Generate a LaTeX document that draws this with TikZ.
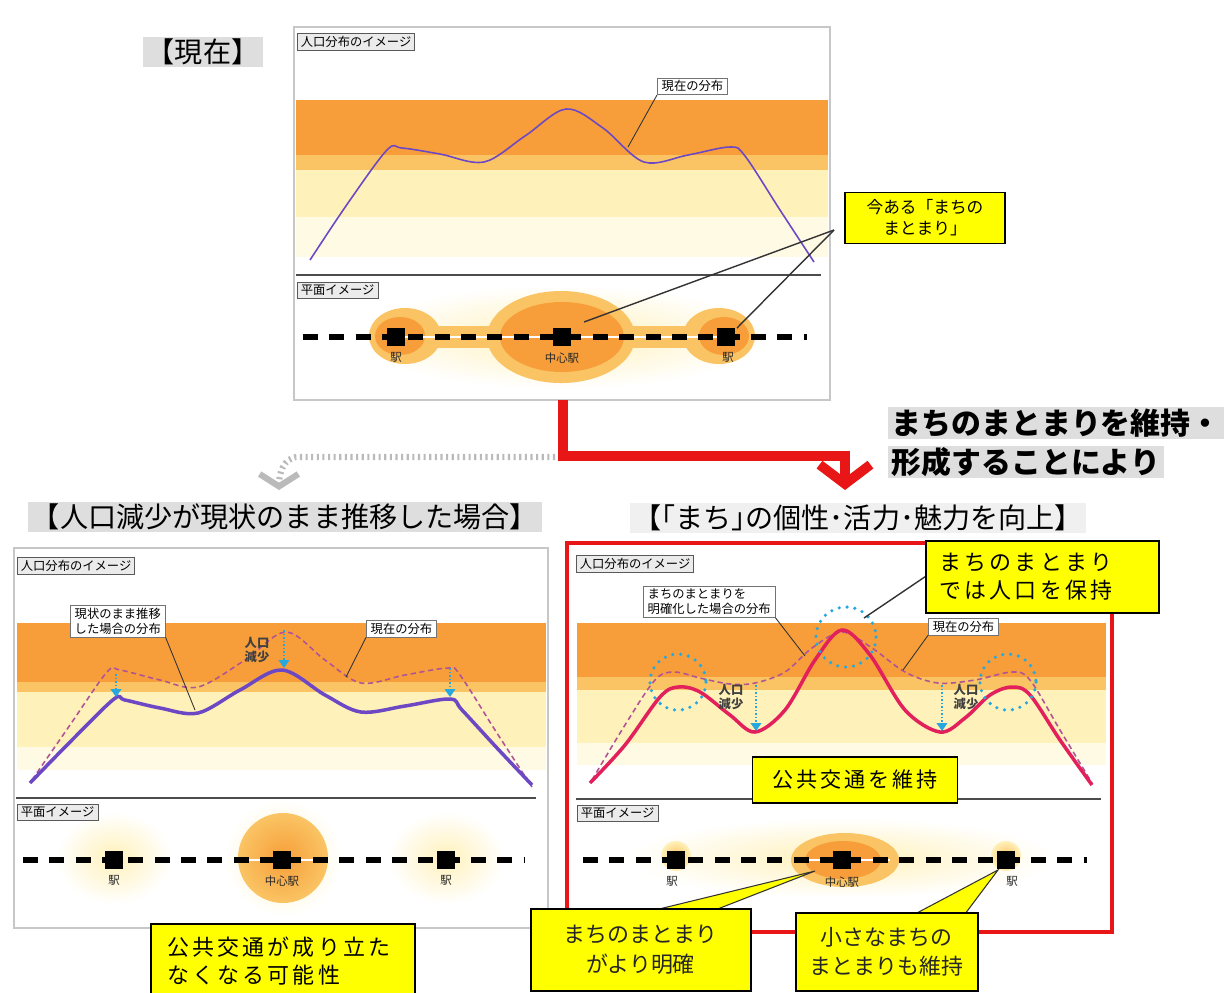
\documentclass[tikz,border=0pt]{standalone}
\usepackage{fontspec}
\usetikzlibrary{arrows.meta}
\setmainfont{Noto Sans CJK JP}
\newfontfamily\widejp[LetterSpace=14]{Noto Sans CJK JP}
\definecolor{bandorange}{RGB}{247,158,58}
\definecolor{bandlight}{RGB}{250,196,100}
\definecolor{bandpale}{RGB}{255,241,186}
\definecolor{bandfaint}{RGB}{255,250,228}
\definecolor{curvepurple}{RGB}{108,72,196}
\definecolor{curvered}{RGB}{226,32,92}
\definecolor{curvedash}{RGB}{176,84,150}
\definecolor{dropblue}{RGB}{38,168,222}
\definecolor{framered}{RGB}{232,22,22}
\definecolor{calloutyellow}{RGB}{255,255,0}
\definecolor{titlegray}{RGB}{222,222,222}
\tikzset{
  panelframe/.style={draw=black!22, line width=0.6pt},
  tag/.style={draw=black!65, fill=black!8, inner xsep=2pt, inner ysep=1.5pt, font=\fontsize{7}{8}\selectfont},
  note/.style={draw=black!55, fill=white, inner xsep=2.5pt, inner ysep=1.5pt, align=left, font=\fontsize{7}{8.5}\selectfont},
  leader/.style={draw=black!80, line width=0.5pt},
  heading/.style={fill=titlegray, inner xsep=2pt, inner ysep=1pt, font=\fontsize{16}{18}\selectfont},
  callout/.style={draw=black, line width=0.9pt, fill=calloutyellow, inner xsep=8pt, inner ysep=4pt},
  divider/.style={draw=black!70, line width=0.6pt},
  railway/.style={line width=3pt, dash pattern=on 8.5pt off 6.5pt},
  station/.style={fill=black, minimum size=10pt, inner sep=0pt},
  stlabel/.style={font=\fontsize{6.5}{7}\selectfont, text=black!85},
  nowcurve/.style={draw=curvepurple, line width=0.9pt},
  oldcurve/.style={draw=curvedash, line width=0.9pt, dash pattern=on 3pt off 2pt},
  drop/.style={draw=dropblue, line width=1pt, densely dotted, -{Triangle[length=4.5pt,width=6pt]}},
  ringdots/.style={draw=dropblue, line width=2pt, dash pattern=on 0pt off 4.5pt, line cap=round},
  declinetext/.style={font=\bfseries\fontsize{7}{8}\selectfont, text=black!75, align=center},
}
\begin{document}
\begin{tikzpicture}[x=0.02cm, y=-0.02cm]
\useasboundingbox (0,0) rectangle (1228,992);
\fill[white] (0,0) rectangle (1228,992);

% top panel
\node[heading] (nowtitle) at (203,52) {【現在】};
\draw[panelframe] (294,27) rectangle (830,400);
\fill[bandfaint] (296,100) rectangle (828,257);
\fill[bandpale] (296,100) rectangle (828,217);
\fill[bandlight] (296,100) rectangle (828,170);
\fill[bandorange] (296,100) rectangle (828,155);
\node[tag, anchor=north west] (topdisttag) at (297,33) {人口分布のイメージ};
\draw[nowcurve] plot[smooth, tension=0.55] coordinates {(310,260) (348,203) (387,150) (402,148) (440,154) (484,162) (525,136) (566,109) (603,128) (644,162) (688,155) (730,147) (745,156) (780,210) (814,262)};
\node[note, anchor=south west] (topnowtag) at (657,95) {現在の分布};
\coordinate (topnowpt) at (628,147);
\draw[leader] (topnowtag.south west) -- (topnowpt);
\shade[inner color=bandpale, outer color=white] (562,337) ellipse [x radius=205, y radius=52];
\draw[divider] (296,275) -- (821,275);
\node[tag, anchor=north west] (topplanetag) at (297,282) {平面イメージ};
\fill[bandlight] (397,326) rectangle (728,348);
\fill[bandlight] (405,336) ellipse [x radius=36, y radius=28];
\fill[bandorange] (400,336) ellipse [x radius=25, y radius=19];
\fill[bandlight] (719,336) ellipse [x radius=36, y radius=28];
\fill[bandorange] (724,336) ellipse [x radius=25, y radius=19];
\fill[bandlight] (561,337) ellipse [x radius=74, y radius=46];
\fill[bandorange] (562,337) ellipse [x radius=62, y radius=35];
\draw[white, line width=1.5pt] (396,337) -- (726,337);
\draw[railway] (303,337) -- (807,337);
\node[station] (topstA) at (396,337) {};
\node[station] (topstB) at (562,337) {};
\node[station] (topstC) at (726,337) {};
\node[stlabel] (topstAname) at (396,357) {駅};
\node[stlabel] (topstBname) at (562,358) {中心駅};
\node[stlabel] (topstCname) at (728,357) {駅};
\node[callout, minimum width=3.2cm, align=center, font=\fontsize{9.5}{12}\selectfont] (nowbox) at (925,218) {今ある「まちの\\まとまり」};
\coordinate (nowhub) at (834,230);
\coordinate (nowcentre) at (584,322);
\coordinate (nowside) at (737,328);
\draw[leader, line width=0.8pt] (nowhub) -- (nowcentre);
\draw[leader, line width=0.8pt] (nowhub) -- (nowside);

% transitions
\coordinate (grayfrom) at (555,457);
\coordinate (graybend) at (298,457);
\coordinate (grayto) at (279,490);
\draw[black!27, line width=3.5pt, dash pattern=on 1.2pt off 2pt, -{Straight Barb[length=7pt,width=22pt]}] (grayfrom) -- (graybend) to[out=180, in=90] (grayto);
\coordinate (redfrom) at (563,400);
\coordinate (redturn) at (845,456);
\coordinate (redto) at (845,490);
\draw[framered, line width=5.5pt, -{Straight Barb[length=11pt,width=29pt]}] (redfrom) |- (redturn) -- (redto);
\node[heading, anchor=west, font=\bfseries\fontsize{17}{19}\selectfont] (keepline) at (888,423) {まちのまとまりを維持・};
\node[heading, anchor=west, font=\bfseries\fontsize{17}{19}\selectfont] (formline) at (888,462) {形成することにより};
\node[heading] (trendtitle) at (285,517) {【人口減少が現状のまま推移した場合】};
\node[heading, fill=black!6] (boosttitle) at (858,518) {【｢まち｣の個性･活力･魅力を向上】};

% bottom left panel
\draw[panelframe] (14,548) rectangle (548,928);
\fill[bandfaint] (17,623) rectangle (546,770);
\fill[bandpale] (17,623) rectangle (546,747);
\fill[bandlight] (17,623) rectangle (546,692);
\fill[bandorange] (17,623) rectangle (546,682);
\node[tag, anchor=north west] (leftdisttag) at (17,557) {人口分布のイメージ};
\draw[oldcurve] plot[smooth, tension=0.55] coordinates {(32,780) (70,725) (107,672) (120,670) (160,680) (198,687) (245,660) (286,632) (325,660) (361,683) (405,675) (448,668) (460,675) (495,730) (532,787)};
\draw[curvepurple, line width=2pt] plot[smooth, tension=0.55] coordinates {(30,783) (72,740) (114,699) (125,700) (160,708) (198,713) (240,690) (282,670) (325,695) (361,712) (405,706) (450,699) (462,710) (497,748) (532,785)};
\coordinate (leftdropAtop) at (116,674);
\coordinate (leftdropAend) at (116,697);
\coordinate (leftdropBtop) at (284,630);
\coordinate (leftdropBend) at (284,668);
\coordinate (leftdropCtop) at (450,668);
\coordinate (leftdropCend) at (450,697);
\draw[drop] (leftdropAtop) -- (leftdropAend);
\draw[drop] (leftdropBtop) -- (leftdropBend);
\draw[drop] (leftdropCtop) -- (leftdropCend);
\node[declinetext] (leftdecline) at (257,650) {人口\\減少};
\node[note, anchor=north west] (lefttrendtag) at (70,605) {現状のまま推移\\した場合の分布};
\coordinate (lefttrendpt) at (195,710);
\draw[leader] (lefttrendtag.south east) -- (lefttrendpt);
\node[note, anchor=north west] (leftnowtag) at (366,620) {現在の分布};
\coordinate (leftnowpt) at (346,677);
\draw[leader] (leftnowtag.south west) -- (leftnowpt);
\shade[inner color=bandpale, outer color=white] (114,858) ellipse [x radius=58, y radius=46];
\shade[inner color=bandpale, outer color=white] (446,858) ellipse [x radius=58, y radius=46];
\shade[inner color=bandpale, outer color=white] (283,858) circle [radius=58];
\shade[inner color=bandorange, outer color=bandlight] (283,858) circle [radius=45];
\draw[divider] (16,798) -- (536,798);
\node[tag, anchor=north west] (leftplanetag) at (17,804) {平面イメージ};
\draw[white, line width=1.5pt] (240,860) -- (326,860);
\draw[railway] (23,860) -- (525,860);
\node[station] (leftstA) at (114,860) {};
\node[station] (leftstB) at (282,860) {};
\node[station] (leftstC) at (446,860) {};
\node[stlabel] (leftstAname) at (114,880) {駅};
\node[stlabel] (leftstBname) at (282,881) {中心駅};
\node[stlabel] (leftstCname) at (446,880) {駅};
\node[callout, anchor=north west, minimum width=5.28cm, minimum height=1.5cm, text width=4.6cm, align=left, font=\widejp\fontsize{12.5}{16}\selectfont] (riskbox) at (150,923) {公共交通が成り立た\\なくなる可能性};

% bottom right panel
\fill[bandfaint] (577,623) rectangle (1106,765);
\fill[bandpale] (577,623) rectangle (1106,743);
\fill[bandlight] (577,623) rectangle (1106,690);
\fill[bandorange] (577,623) rectangle (1106,677);
\node[tag, anchor=north west] (rightdisttag) at (576,555) {人口分布のイメージ};
\draw[oldcurve] plot[smooth, tension=0.55] coordinates {(592,780) (625,725) (655,680) (674,672) (700,678) (730,684) (755,683) (785,672) (812,648) (842,632) (872,648) (905,672) (938,683) (975,680) (1012,672) (1030,680) (1060,730) (1092,783)};
\draw[curvered, line width=2pt] plot[smooth, tension=0.55] coordinates {(590,783) (625,745) (660,697) (678,687) (700,692) (730,715) (755,732) (785,710) (815,660) (842,630) (870,655) (905,710) (940,732) (965,718) (990,695) (1012,687) (1030,695) (1060,740) (1092,785)};
\draw[ringdots] (678,682) circle [radius=28];
\draw[ringdots] (846,637) circle [radius=30];
\draw[ringdots] (1008,682) circle [radius=28];
\coordinate (rightdropAtop) at (756,685);
\coordinate (rightdropAend) at (756,731);
\coordinate (rightdropBtop) at (942,685);
\coordinate (rightdropBend) at (942,731);
\draw[drop] (rightdropAtop) -- (rightdropAend);
\draw[drop] (rightdropBtop) -- (rightdropBend);
\node[declinetext] (rightdeclineA) at (731,697) {人口\\減少};
\node[declinetext] (rightdeclineB) at (966,697) {人口\\減少};
\node[note, anchor=north west] (rightcleartag) at (643,586) {まちのまとまりを\\明確化した場合の分布};
\coordinate (rightclearpt) at (805,656);
\draw[leader] (rightcleartag.south east) -- (rightclearpt);
\node[note, anchor=north west] (rightnowtag) at (928,618) {現在の分布};
\coordinate (rightnowpt) at (903,670);
\draw[leader] (rightnowtag.south west) -- (rightnowpt);
\shade[inner color=bandpale, outer color=white] (842,858) ellipse [x radius=215, y radius=40];
\draw[divider] (576,799) -- (1101,799);
\node[tag, anchor=north west] (rightplanetag) at (577,805) {平面イメージ};
\fill[bandlight] (845,860) ellipse [x radius=54, y radius=27];
\fill[bandorange] (843,860) ellipse [x radius=38, y radius=19];
\shade[inner color=bandlight, outer color=bandpale] (676,856) circle [radius=15];
\shade[inner color=bandlight, outer color=bandpale] (1006,856) circle [radius=15];
\draw[white, line width=1.5pt] (800,860) -- (890,860);
\draw[railway] (583,860) -- (1087,860);
\node[station] (rightstA) at (676,860) {};
\node[station] (rightstB) at (842,860) {};
\node[station] (rightstC) at (1006,860) {};
\node[stlabel] (rightstAname) at (672,881) {駅};
\node[stlabel] (rightstBname) at (842,882) {中心駅};
\node[stlabel] (rightstCname) at (1012,881) {駅};
\draw[framered, line width=2.8pt] (567,543) rectangle (1112,932);
\node[callout, anchor=north west, minimum width=4.5cm, minimum height=1.44cm, text width=4.1cm, align=left, font=\widejp\fontsize{12.5}{16}\selectfont] (keepbox) at (925,540) {まちのまとまり\\では人口を保持};
\coordinate (keeptip) at (864,618);
\draw[leader, line width=0.8pt] (keepbox.west) -- (keeptip);
\node[callout, minimum width=4.1cm, minimum height=0.92cm, font=\widejp\fontsize{12}{14}\selectfont] (transitbox) at (855,780) {公共交通を維持};
\coordinate (clearwedgeA) at (655,910);
\coordinate (clearwedgeB) at (715,910);
\coordinate (cleartip) at (815,871);
\filldraw[fill=calloutyellow, draw=black!80, line width=0.6pt] (clearwedgeA) -- (cleartip) -- (clearwedgeB);
\coordinate (smallwedgeA) at (915,914);
\coordinate (smallwedgeB) at (965,914);
\coordinate (smalltip) at (998,870);
\filldraw[fill=calloutyellow, draw=black!80, line width=0.6pt] (smallwedgeA) -- (smalltip) -- (smallwedgeB);
\node[callout, anchor=north west, minimum width=4.4cm, minimum height=1.64cm, align=center, text=black!85, font=\fontsize{12.5}{17}\selectfont] (clearbox) at (530,908) {まちのまとまり\\がより明確};
\node[callout, anchor=north west, minimum width=3.64cm, minimum height=1.56cm, align=center, text=black!85, font=\fontsize{12.5}{17}\selectfont] (smallbox) at (795,912) {小さなまちの\\まとまりも維持};
\end{tikzpicture}
\end{document}
